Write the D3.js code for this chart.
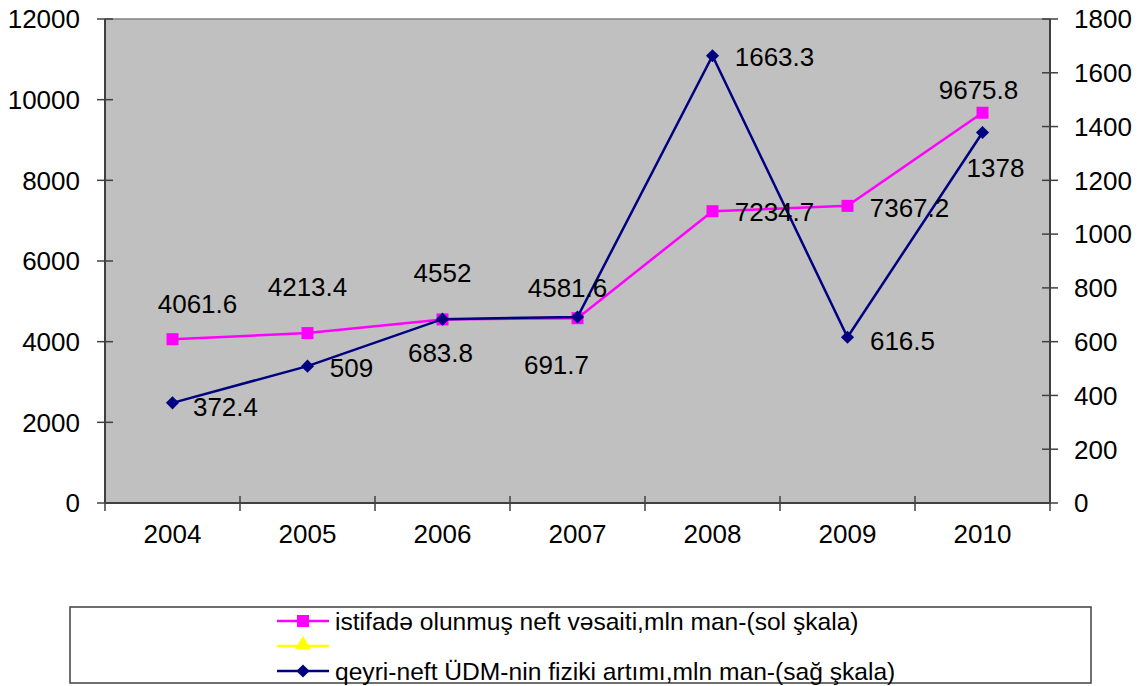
<!DOCTYPE html>
<html><head><meta charset="utf-8">
<script src="https://cdn.jsdelivr.net/npm/d3@7"></script>
<style>html,body{margin:0;padding:0;background:#fff;}svg{display:block;font-family:"Liberation Sans",Arial,sans-serif;}</style>
</head><body>
<svg id="c" width="1144" height="686"></svg>
<script>
const years = ["2004","2005","2006","2007","2008","2009","2010"];
const oilFunds = [4061.6, 4213.4, 4552, 4581.6, 7234.7, 7367.2, 9675.8];
const nonOilGrowth = [372.4, 509, 683.8, 691.7, 1663.3, 616.5, 1378];
const leftTicks = [0,2000,4000,6000,8000,10000,12000];
const rightTicks = [0,200,400,600,800,1000,1200,1400,1600,1800];
const legendLabels = ["istifadə olunmuş neft vəsaiti,mln man-(sol şkala)", "", "qeyri-neft ÜDM-nin fiziki artımı,mln man-(sağ şkala)"];
// manual label offsets (dx, dy from marker to label centre), like the original
const oilLabelOffsets = [[25,-36],[0,-46],[0,-47],[-10,-31],[62,0],[62,2],[-4,-23]];
const growthLabelOffsets = [[53,4],[44,2],[-2,34],[-21,48],[62,1],[55,3],[13,35]];

const svg = d3.select("#c");
const L=105, R=1050, T=19, B=503;
const x = d3.scaleBand().domain(years).range([L,R]);
const yL = d3.scaleLinear().domain([0,12000]).range([B,T]);
const yR = d3.scaleLinear().domain([0,1800]).range([B,T]);
const fs = 26;
const axisCol = "#404040";

svg.append("rect").attr("x",L).attr("y",T).attr("width",R-L).attr("height",B-T).attr("fill","#c0c0c0");
svg.append("line").attr("x1",L).attr("x2",R).attr("y1",T).attr("y2",T).attr("stroke","#808080").attr("stroke-width",1.5);

// left axis
svg.append("line").attr("x1",L).attr("x2",L).attr("y1",T).attr("y2",B).attr("stroke",axisCol).attr("stroke-width",2);
leftTicks.forEach(t=>{
  svg.append("line").attr("x1",L-8).attr("x2",L+8).attr("y1",yL(t)).attr("y2",yL(t)).attr("stroke",axisCol).attr("stroke-width",1.5);
  svg.append("text").attr("x",80).attr("y",yL(t)).attr("dy","0.36em").attr("text-anchor","end").attr("font-size",fs).text(t);
});
// right axis
svg.append("line").attr("x1",R).attr("x2",R).attr("y1",T).attr("y2",B).attr("stroke",axisCol).attr("stroke-width",2);
rightTicks.forEach(t=>{
  svg.append("line").attr("x1",R-8).attr("x2",R+8).attr("y1",yR(t)).attr("y2",yR(t)).attr("stroke",axisCol).attr("stroke-width",1.5);
  svg.append("text").attr("x",1074).attr("y",yR(t)).attr("dy","0.36em").attr("text-anchor","start").attr("font-size",fs).text(t);
});
// x axis
svg.append("line").attr("x1",L).attr("x2",R).attr("y1",B).attr("y2",B).attr("stroke",axisCol).attr("stroke-width",2);
years.forEach((yr,i)=>{
  const bx = x(yr);
  svg.append("line").attr("x1",bx).attr("x2",bx).attr("y1",B-7).attr("y2",B+8).attr("stroke",axisCol).attr("stroke-width",1.5);
  svg.append("text").attr("x",bx+x.bandwidth()/2).attr("y",534).attr("dy","0.36em").attr("text-anchor","middle").attr("font-size",fs).text(yr);
});
svg.append("line").attr("x1",R).attr("x2",R).attr("y1",B-7).attr("y2",B+8).attr("stroke",axisCol).attr("stroke-width",1.5);

const cx = d=>x(d)+x.bandwidth()/2;
const magenta="#ff00ff", navy="#000080";

// oil funds series (left)
svg.append("path").datum(oilFunds).attr("fill","none").attr("stroke",magenta).attr("stroke-width",2.5)
  .attr("d", d3.line().x((d,i)=>cx(years[i])).y(d=>yL(d)));
svg.selectAll(".sq").data(oilFunds).enter().append("rect")
  .attr("x",(d,i)=>cx(years[i])-6).attr("y",d=>yL(d)-6).attr("width",12).attr("height",12).attr("fill",magenta);

// non-oil growth (right)
svg.append("path").datum(nonOilGrowth).attr("fill","none").attr("stroke",navy).attr("stroke-width",2.5)
  .attr("d", d3.line().x((d,i)=>cx(years[i])).y(d=>yR(d)));
const diamond = d3.symbol().type(d3.symbolDiamond2).size(110);
svg.selectAll(".dm").data(nonOilGrowth).enter().append("path")
  .attr("transform",(d,i)=>`translate(${cx(years[i])},${yR(d)})`).attr("d",diamond).attr("fill",navy);

// labels
oilFunds.forEach((v,i)=>{
  const o=oilLabelOffsets[i];
  svg.append("text").attr("x",cx(years[i])+o[0]).attr("y",yL(v)+o[1]).attr("dy","0.36em").attr("text-anchor","middle").attr("font-size",fs).text(v);
});
nonOilGrowth.forEach((v,i)=>{
  const o=growthLabelOffsets[i];
  svg.append("text").attr("x",cx(years[i])+o[0]).attr("y",yR(v)+o[1]).attr("dy","0.36em").attr("text-anchor","middle").attr("font-size",fs).text(v);
});

// legend
svg.append("rect").attr("x",70).attr("y",607).attr("width",1021).attr("height",76).attr("fill","#fff").attr("stroke","#404040").attr("stroke-width",1.5);
const legendColors=[magenta,"#ffff00",navy];
const rowsY=[621,646,671];
legendLabels.forEach((lab,i)=>{
  const yy=rowsY[i];
  svg.append("line").attr("x1",277).attr("x2",329).attr("y1",yy).attr("y2",yy).attr("stroke",legendColors[i]).attr("stroke-width",2.5);
  if(i===0) svg.append("rect").attr("x",297).attr("y",yy-6).attr("width",12).attr("height",12).attr("fill",magenta);
  if(i===1) svg.append("path").attr("transform",`translate(303,${yy-1})`).attr("d",d3.symbol().type(d3.symbolTriangle).size(110)).attr("fill","#ffff00");
  if(i===2) svg.append("path").attr("transform",`translate(303,${yy})`).attr("d",diamond).attr("fill",navy);
  svg.append("text").attr("x",335).attr("y",yy).attr("dy","0.36em").attr("font-size",24.6).text(lab);
});
</script>
</body></html>
